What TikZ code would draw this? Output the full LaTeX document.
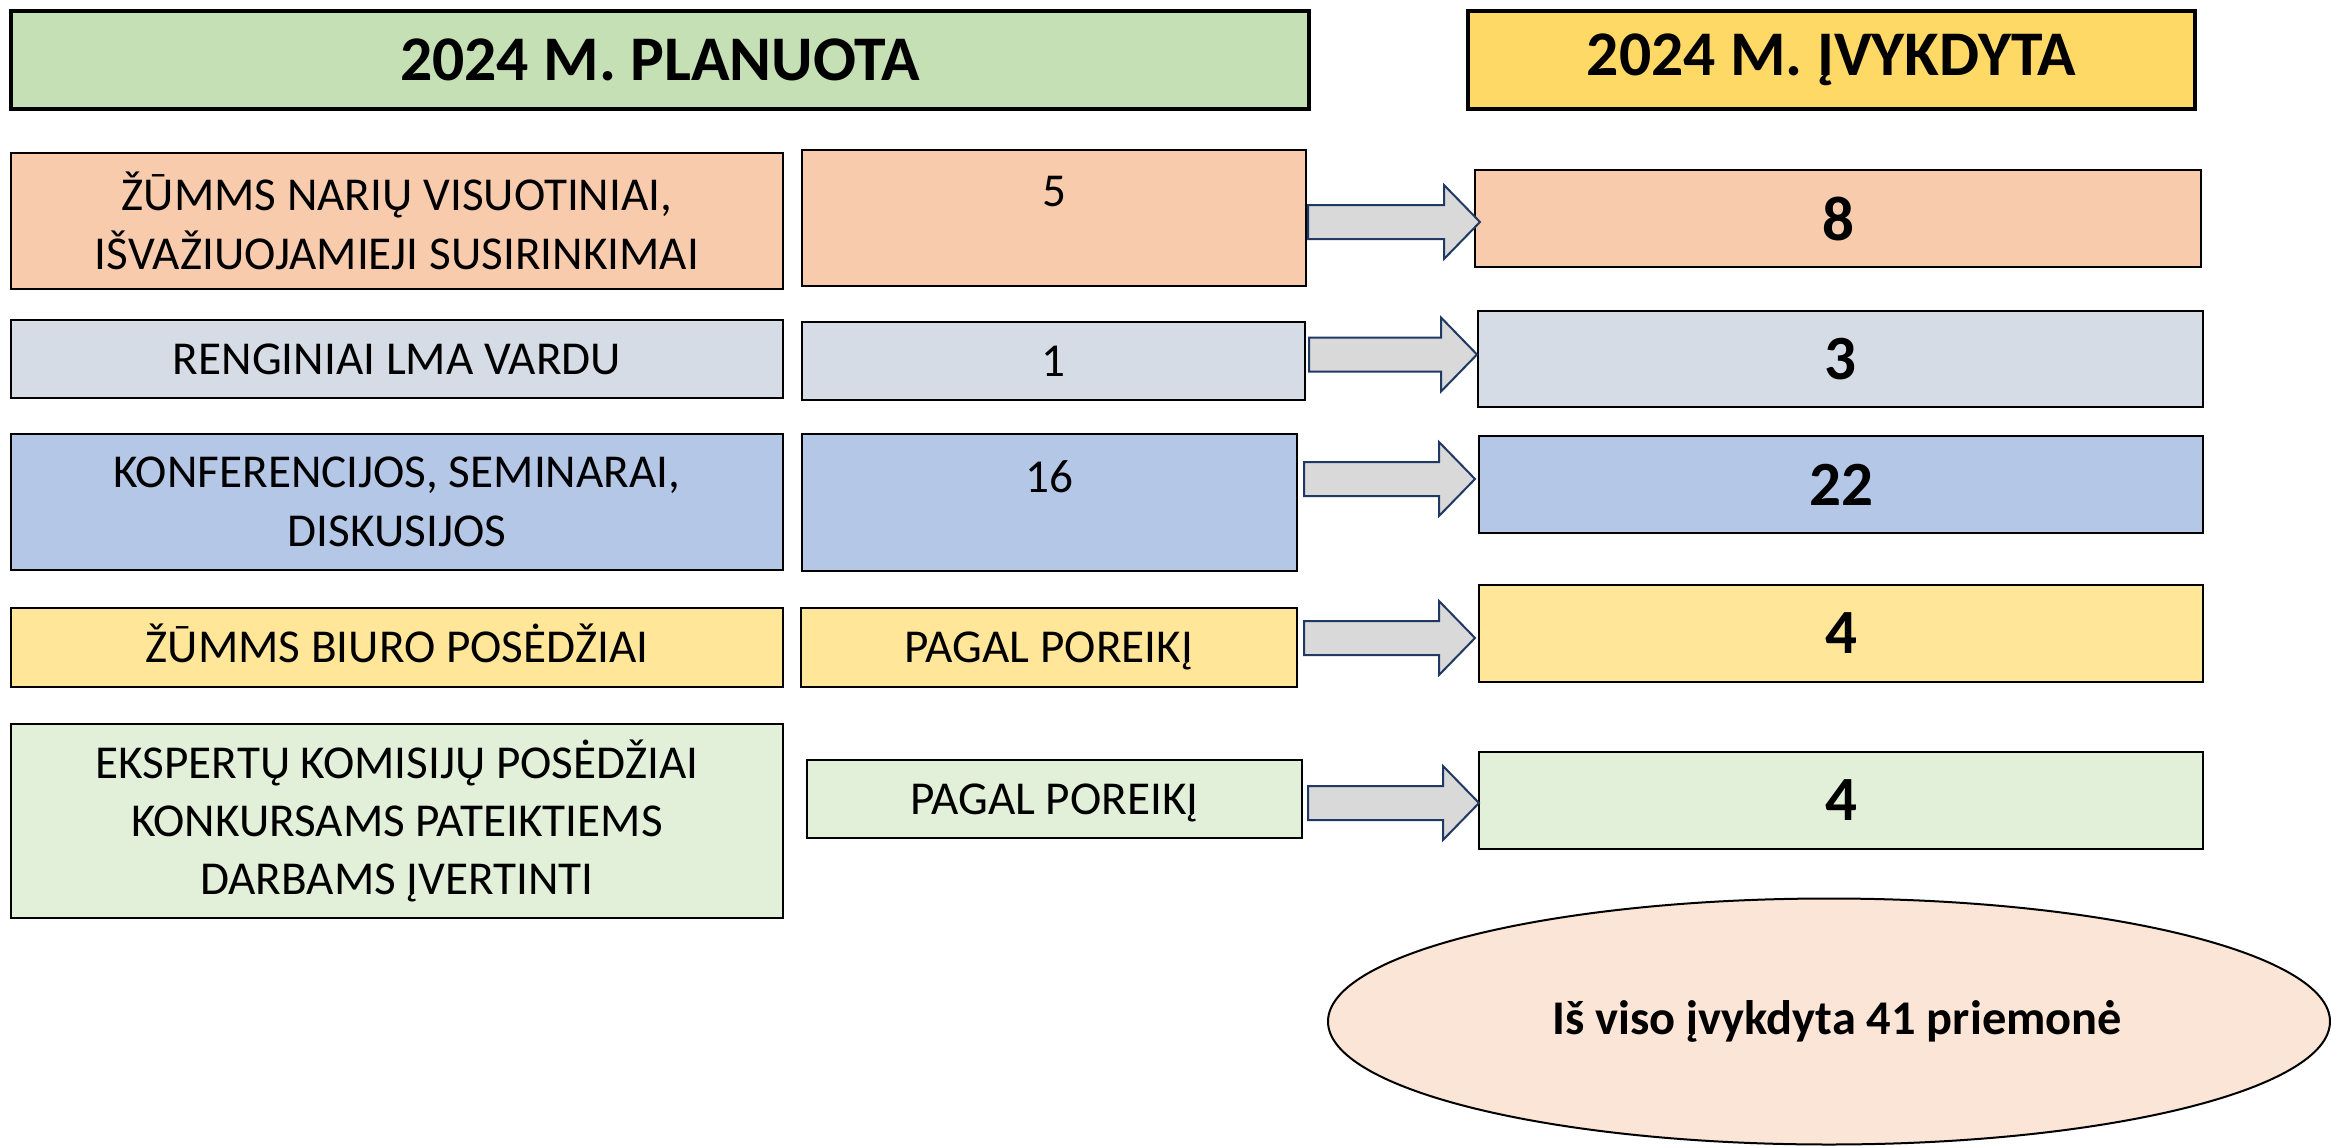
\documentclass[tikz,border=0pt]{standalone}
\usepackage{fontspec}
\setmainfont{Carlito}
\usetikzlibrary{calc,shapes.geometric}
\definecolor{hgreen}{HTML}{C5E0B4}
\definecolor{hgold}{HTML}{FFD966}
\definecolor{cpeach}{HTML}{F8CBAD}
\definecolor{cgrey}{HTML}{D6DCE5}
\definecolor{cblue}{HTML}{B4C7E7}
\definecolor{cyellow}{HTML}{FFE699}
\definecolor{cgreen}{HTML}{E2F0D9}
\definecolor{cell}{HTML}{FBE5D6}
\definecolor{afill}{HTML}{D9D9D9}
\definecolor{aline}{HTML}{1F3864}
\tikzset{
  wh/.style 2 args={minimum width={#1*0.5pt}, minimum height={#2*0.5pt}},
  hdr/.style={draw=black, line width=1.6pt, rectangle, inner sep=0pt, outer sep=0pt,
    font=\fontsize{31.8}{36}\selectfont\bfseries},
  box/.style={draw=black, line width=1.3pt, rectangle, inner sep=0pt, outer sep=0pt,
    align=center, font=\fontsize{23.6}{29.2}\selectfont},
  oneline/.style={text height=15.2pt, text depth=0pt},
  numbox/.style={box, font=\fontsize{31.5}{36}\selectfont\bfseries},
  barrow/.style={draw=aline, fill=afill, line width=1pt, line join=miter},
  toplabel/.style={label={[anchor=north, inner sep=0pt, yshift=-13pt, font=\fontsize{23.6}{29}\selectfont]north:#1}}
}
\newcommand\blockarr[2]{%
  \draw[barrow] let \p1=#1, \p2=#2 in
    (\x1,\y1+8.5pt) -- (\x2-18pt,\y1+8.5pt) -- (\x2-18pt,\y1+18.5pt) -- (\x2,\y1)
    -- (\x2-18pt,\y1-18.5pt) -- (\x2-18pt,\y1-8.5pt) -- (\x1,\y1-8.5pt) -- cycle;}
\begin{document}
\begin{tikzpicture}[x=0.5pt,y=-0.5pt]
\useasboundingbox[fill=white] (0,0) rectangle (2331,1146);
% headers
\node[hdr, fill=hgreen, wh={1298}{98}] (hl) at (660,60) {2024 M. PLANUOTA};
\node[hdr, fill=hgold, wh={727}{98}] (hr) at (1831.5,60) {2024 M. ĮVYKDYTA};
% row 1
\node[box, fill=cpeach, wh={772}{136}] (l1) at (397,221) {ŽŪMMS NARIŲ VISUOTINIAI,\\IŠVAŽIUOJAMIEJI SUSIRINKIMAI};
\node[box, fill=cpeach, wh={504}{136}, toplabel=5] (m1) at (1054,218) {};
\node[numbox, fill=cpeach, wh={726}{97}] (r1) at (1838,218.5) {8};
% row 2
\node[box, oneline, fill=cgrey, wh={772}{78}] (l2) at (397,359) {RENGINIAI LMA VARDU};
\node[box, oneline, fill=cgrey, wh={503}{78}] (m2) at (1053.5,361) {1};
\node[numbox, fill=cgrey, wh={725}{96}] (r2) at (1840.5,359) {3};
% row 3
\node[box, fill=cblue, wh={772}{136}] (l3) at (397,502) {KONFERENCIJOS, SEMINARAI,\\DISKUSIJOS};
\node[box, fill=cblue, wh={495}{137}, toplabel=16] (m3) at (1049.5,502.5) {};
\node[numbox, fill=cblue, wh={724}{97}] (r3) at (1841,484.5) {22};
% row 4
\node[box, oneline, fill=cyellow, wh={772}{79}] (l4) at (397,647.5) {ŽŪMMS BIURO POSĖDŽIAI};
\node[box, oneline, fill=cyellow, wh={496}{79}] (m4) at (1049,647.5) {PAGAL POREIKĮ};
\node[numbox, fill=cyellow, wh={724}{97}] (r4) at (1841,633.5) {4};
% row 5
\node[box, fill=cgreen, wh={772}{194}] (l5) at (397,821) {EKSPERTŲ KOMISIJŲ POSĖDŽIAI\\KONKURSAMS PATEIKTIEMS\\DARBAMS ĮVERTINTI};
\node[box, oneline, fill=cgreen, wh={495}{78}] (m5) at (1054.5,799) {PAGAL POREIKĮ};
\node[numbox, fill=cgreen, wh={724}{97}] (r5) at (1841,800.5) {4};
% arrows
\blockarr{($(m1.east)+(2,4)$)}{($(r1.west)+(5,0)$)}
\blockarr{($(m2.east)+(4,-6.5)$)}{($(r2.west)+(-1,0)$)}
\blockarr{($(m3.east)+(7,-23.5)$)}{($(r3.west)+(-4,0)$)}
\blockarr{($(m4.east)+(7,-9.5)$)}{($(r4.west)+(-4,0)$)}
\blockarr{($(m5.east)+(6,4)$)}{($(r5.west)+(0,0)$)}
% total
\node[ellipse, draw=black, line width=1pt, fill=cell, inner sep=0pt,
  minimum width=501pt, minimum height=123pt,
  font=\fontsize{24.2}{28}\selectfont\bfseries] (tot) at (1829,1021.5) {\hspace*{8pt}Iš viso įvykdyta 41 priemonė};
\end{tikzpicture}
\end{document}
